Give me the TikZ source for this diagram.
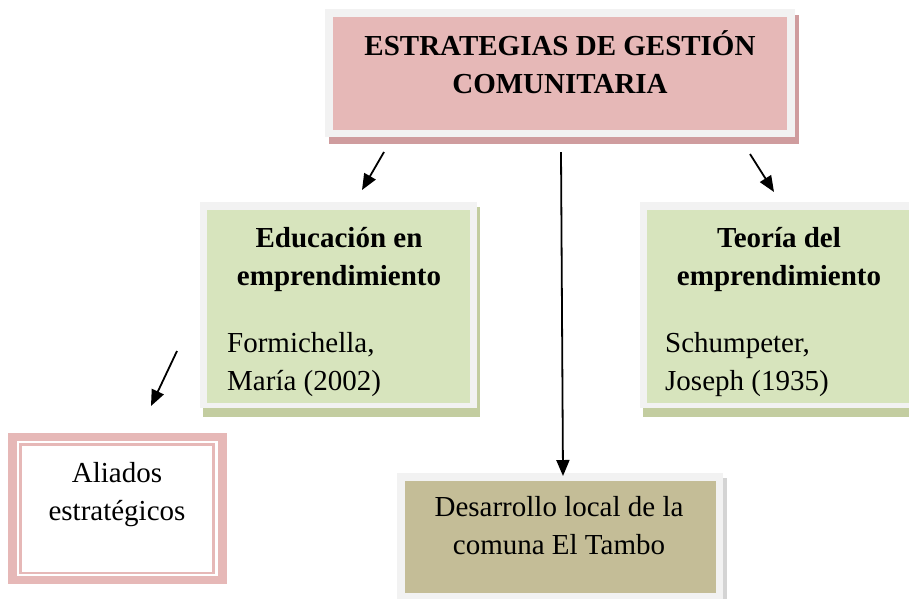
\documentclass[tikz,border=0pt]{standalone}
\usepackage{fontspec}
\setmainfont{Liberation Serif}
\usetikzlibrary{arrows.meta}
\definecolor{pinkfill}{HTML}{E6B8B7}
\definecolor{pinkshadow}{HTML}{CF9C9E}
\definecolor{framegray}{HTML}{F2F2F2}
\definecolor{greenfill}{HTML}{D7E4BD}
\definecolor{greenshadow}{HTML}{C3CDA0}
\definecolor{khakifill}{HTML}{C4BD97}
\definecolor{khakishadow}{HTML}{D4D4D4}
\begin{document}
\begin{tikzpicture}[x=1pt,y=-1pt,
  txt/.style={font=\fontsize{29}{38}\selectfont, inner sep=0, align=center},
  boldtxt/.style={font=\fontsize{29}{38}\selectfont\bfseries, inner sep=0, align=center},
  lefttxt/.style={font=\fontsize{29}{38}\selectfont, inner sep=0, align=left},
  arr/.style={line width=1.8pt, -{Triangle[length=16pt,width=13pt]}}]
\useasboundingbox (0,0) rectangle (909,598);
\clip (0,0) rectangle (909,598);
% top box
\fill[pinkshadow] (329,15) rectangle (799,144);
\fill[framegray] (325,9) rectangle (795,137);
\node[fill=pinkfill, inner sep=0, minimum width=454pt, minimum height=113pt] (top) at (560,73.5) {};
\node[boldtxt, anchor=base] (toptext) at (560,93) {ESTRATEGIAS DE GESTIÓN\\COMUNITARIA};
% left green box
\fill[greenshadow] (203,207) rectangle (480,417);
\fill[framegray] (200,202) rectangle (477,408);
\node[fill=greenfill, inner sep=0, minimum width=263pt, minimum height=193pt] (edu) at (338.5,306.5) {};
\node[boldtxt, anchor=base] (edutitle) at (339,285) {Educación en\\emprendimiento};
\node[lefttxt, anchor=base west] (eduref) at (227,390) {Formichella,\\María (2002)};
% right green box
\fill[greenshadow] (643,207) rectangle (920,417);
\fill[framegray] (640,202) rectangle (917,408);
\node[fill=greenfill, inner sep=0, minimum width=263pt, minimum height=193pt] (teo) at (778.5,306.5) {};
\node[boldtxt, anchor=base] (teotitle) at (779,285) {Teoría del\\emprendimiento};
\node[lefttxt, anchor=base west] (teoref) at (665,390) {Schumpeter,\\Joseph (1935)};
% aliados box
\fill[pinkfill] (8,433) rectangle (227,584);
\node[fill=white, inner sep=0, minimum width=201pt, minimum height=135pt] (ali) at (117.5,508.5) {};
\draw[pinkfill, line width=2.5pt] (20.5,444.5) rectangle (213.5,573);
\node[txt, anchor=base] (alitext) at (117,520) {Aliados\\estratégicos};
% desarrollo box
\fill[khakishadow] (401,478) rectangle (727,600);
\fill[framegray] (397,473) rectangle (723,600);
\node[fill=khakifill, inner sep=0, minimum width=311pt, minimum height=112pt] (des) at (560.5,537) {};
\node[txt, anchor=base] (destext) at (559,554) {Desarrollo local de la\\comuna El Tambo};
% arrows
\coordinate (a1s) at (384,152); \coordinate (a1e) at (362,190);
\coordinate (a2s) at (561,152); \coordinate (a2e) at (563,476);
\coordinate (a3s) at (750,154); \coordinate (a3e) at (774,192);
\coordinate (a4s) at (177,351); \coordinate (a4e) at (151,406);
\draw[arr] (a1s) -- (a1e);
\draw[arr] (a2s) -- (a2e);
\draw[arr] (a3s) -- (a3e);
\draw[arr] (a4s) -- (a4e);
\end{tikzpicture}
\end{document}
